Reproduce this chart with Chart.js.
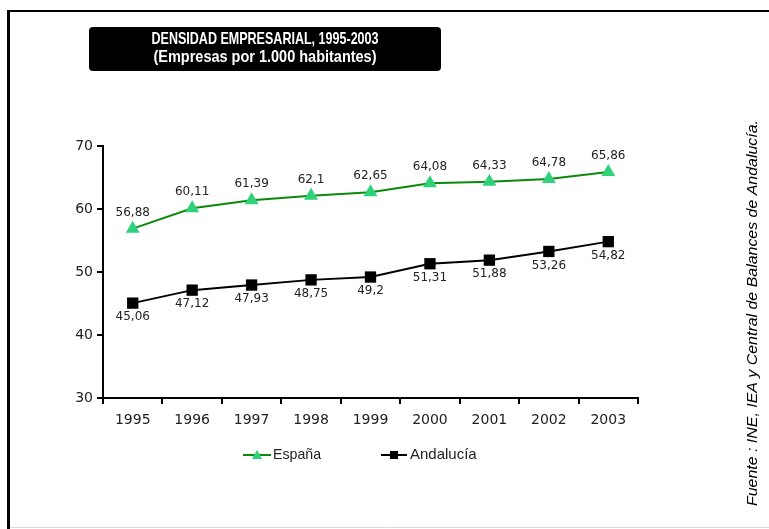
<!DOCTYPE html>
<html>
<head>
<meta charset="utf-8">
<script src="https://cdn.jsdelivr.net/npm/chart.js@4/dist/chart.umd.min.js"></script>
<style>
  html, body { margin: 0; padding: 0; background: #fff; }
  #wrap { position: relative; width: 769px; height: 529px; }
</style>
</head>
<body>
<div id="wrap"><canvas id="c" width="769" height="529"></canvas></div>
<script>
// Years on the horizontal axis
const years = ['1995', '1996', '1997', '1998', '1999', '2000', '2001', '2002', '2003'];
// Companies per 1,000 inhabitants
const espana = [56.88, 60.11, 61.39, 62.1, 62.65, 64.08, 64.33, 64.78, 65.86];
const andalucia = [45.06, 47.12, 47.93, 48.75, 49.2, 51.31, 51.88, 53.26, 54.82];
const yTicks = [30, 40, 50, 60, 70];

const titleLines = ['DENSIDAD EMPRESARIAL, 1995-2003', '(Empresas por 1.000 habitantes)'];
const sourceText = 'Fuente : INE, IEA y Central de Balances de Andalucía.';

const fmt = v => String(v).replace('.', ',');

function roundRect(ctx, x, y, w, h, r) {
  ctx.beginPath();
  ctx.moveTo(x + r, y);
  ctx.lineTo(x + w - r, y);
  ctx.quadraticCurveTo(x + w, y, x + w, y + r);
  ctx.lineTo(x + w, y + h - r);
  ctx.quadraticCurveTo(x + w, y + h, x + w - r, y + h);
  ctx.lineTo(x + r, y + h);
  ctx.quadraticCurveTo(x, y + h, x, y + h - r);
  ctx.lineTo(x, y + r);
  ctx.quadraticCurveTo(x, y, x + r, y);
  ctx.closePath();
}

// Draws text scaled horizontally to a given width
function fitText(ctx, text, cx, cy, width) {
  const w = ctx.measureText(text).width;
  const s = width / w;
  ctx.save();
  ctx.translate(cx, cy);
  ctx.scale(s, 1);
  ctx.fillText(text, 0, 0);
  ctx.restore();
}

const decor = {
  id: 'decor',
  beforeDraw(chart) {
    const ctx = chart.ctx;
    ctx.save();
    ctx.fillStyle = '#fff';
    ctx.fillRect(0, 0, chart.width, chart.height);
    // outer frame
    ctx.strokeStyle = '#000';
    ctx.lineWidth = 3;
    ctx.beginPath();
    ctx.moveTo(8.5, 529);
    ctx.lineTo(8.5, 11.5);
    ctx.stroke();
    ctx.lineWidth = 2;
    ctx.beginPath();
    ctx.moveTo(7, 11);
    ctx.lineTo(769, 11);
    ctx.stroke();
    ctx.strokeStyle = '#dcdcdc';
    ctx.lineWidth = 1;
    ctx.beginPath();
    ctx.moveTo(10, 527.5);
    ctx.lineTo(769, 527.5);
    ctx.stroke();
    ctx.restore();
  },
  afterDraw(chart) {
    const ctx = chart.ctx;
    ctx.save();
    // title box
    ctx.fillStyle = '#000';
    roundRect(ctx, 89, 27, 352, 44, 4);
    ctx.fill();
    ctx.fillStyle = '#fff';
    ctx.textAlign = 'center';
    ctx.textBaseline = 'alphabetic';
    ctx.font = 'bold 17px "Liberation Sans", Arial, sans-serif';
    fitText(ctx, titleLines[0], 265, 43.5, 227);
    fitText(ctx, titleLines[1], 265, 62, 223);

    // source note, rotated
    ctx.fillStyle = '#000';
    ctx.textBaseline = 'middle';
    ctx.font = 'italic 15px "Liberation Sans", Arial, sans-serif';
    ctx.save();
    ctx.translate(753, 313);
    ctx.rotate(-Math.PI / 2);
    fitText(ctx, sourceText, 0, 0, 386);
    ctx.restore();

    // data labels
    ctx.font = '12px "DejaVu Sans", sans-serif';
    ctx.fillStyle = '#222';
    ctx.textAlign = 'center';
    ctx.textBaseline = 'middle';
    chart.data.datasets.forEach((ds, i) => {
      const meta = chart.getDatasetMeta(i);
      meta.data.forEach((pt, j) => {
        const dy = i === 0 ? -16 : 14;
        ctx.fillText(fmt(ds.data[j]), pt.x, pt.y + dy);
      });
    });

    // legend
    const items = [
      { x: 243, len: 28, tx: 273, ds: 0, label: 'España', w: 48 },
      { x: 381, len: 26, tx: 410, ds: 1, label: 'Andalucía', w: 67 }
    ];
    const ly = 455;
    items.forEach(it => {
      const ds = chart.data.datasets[it.ds];
      ctx.strokeStyle = ds.borderColor;
      ctx.lineWidth = 2;
      ctx.beginPath();
      ctx.moveTo(it.x, ly);
      ctx.lineTo(it.x + it.len, ly);
      ctx.stroke();
      ctx.fillStyle = ds.pointBackgroundColor;
      const cx = it.x + it.len / 2;
      if (ds.pointStyle === 'triangle') {
        ctx.beginPath();
        ctx.moveTo(cx, ly - 5);
        ctx.lineTo(cx + 5, ly + 4);
        ctx.lineTo(cx - 5, ly + 4);
        ctx.closePath();
        ctx.fill();
      } else {
        ctx.fillRect(cx - 4, ly - 4, 8, 8);
      }
      ctx.fillStyle = '#222';
      ctx.font = '15px "Liberation Sans", Arial, sans-serif';
      ctx.textAlign = 'left';
      const w = ctx.measureText(it.label).width;
      ctx.save();
      ctx.translate(it.tx, ly);
      ctx.scale(Math.min(1, it.w / w), 1);
      ctx.fillText(it.label, 0, 0);
      ctx.restore();
    });
    ctx.restore();
  }
};

new Chart(document.getElementById('c'), {
  type: 'line',
  data: {
    labels: years,
    datasets: [
      {
        label: 'España',
        data: espana,
        borderColor: '#0a8a0a',
        borderWidth: 2,
        pointStyle: 'triangle',
        pointRadius: 8,
        pointBackgroundColor: '#2fd27a',
        pointBorderColor: '#2fd27a',
        pointBorderWidth: 0,
        tension: 0
      },
      {
        label: 'Andalucía',
        data: andalucia,
        borderColor: '#000',
        borderWidth: 2,
        pointStyle: 'rect',
        pointRadius: 8,
        pointBackgroundColor: '#000',
        pointBorderColor: '#000',
        pointBorderWidth: 0,
        tension: 0
      }
    ]
  },
  options: {
    responsive: false,
    animation: false,
    layout: { padding: { left: 0, top: 146, right: 131, bottom: 91 } },
    plugins: { legend: { display: false }, tooltip: { enabled: false }, title: { display: false } },
    scales: {
      x: {
        offset: true,
        grid: { offset: true, drawOnChartArea: false, drawTicks: true, tickLength: 6, color: '#000', lineWidth: 2 },
        border: { display: true, color: '#000', width: 2 },
        ticks: { color: '#222', font: { family: 'DejaVu Sans', size: 14 }, padding: 8 },
        afterFit(s) { s.height = 40; }
      },
      y: {
        min: 30,
        max: 70,
        afterBuildTicks(s) { s.ticks = yTicks.map(v => ({ value: v })); },
        grid: { drawOnChartArea: false, drawTicks: true, tickLength: 6, color: '#000', lineWidth: 2 },
        border: { display: true, color: '#000', width: 2 },
        ticks: { color: '#222', font: { family: 'DejaVu Sans', size: 14 }, padding: 4 },
        afterFit(s) { s.width = 103; }
      }
    }
  },
  plugins: [decor]
});
</script>
</body>
</html>
